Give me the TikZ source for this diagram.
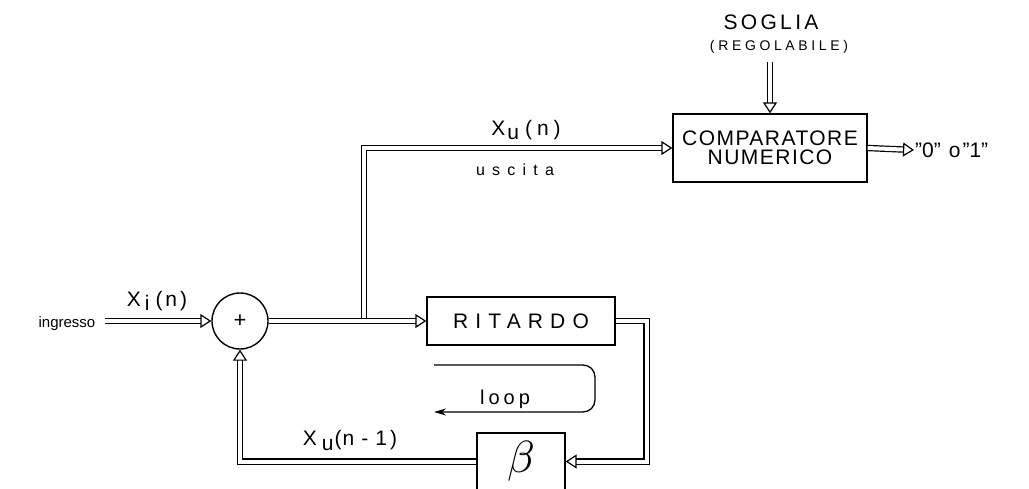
\documentclass[tikz,border=0pt]{standalone}
\usepackage{fontspec}
\usepackage{graphicx}
\setmainfont{Liberation Sans}
\usetikzlibrary{arrows.meta}
\begin{document}
\begin{tikzpicture}[x=1pt,y=-1pt,
  dbl/.style={draw=black, double=white, double distance=4pt, line width=1.2pt},
  darr/.style={dbl, -{Triangle[open, length=11pt, width=14pt, line width=1.2pt]}},
  blk/.style={draw, line width=1.3pt, rectangle, inner sep=0pt},
  lbl/.style={inner sep=1pt},
  sym/.style={lbl, font=\fontsize{21}{21}\selectfont},
]
\useasboundingbox (0,0) rectangle (1029,488);
% blocks
\node[circle, draw, line width=1.4pt, minimum size=56pt, inner sep=0pt, font=\fontsize{22}{22}\selectfont] (sum) at (240,321) {+};
\node[blk, minimum width=188pt, minimum height=48pt, font=\fontsize{21}{21}\selectfont\addfontfeature{LetterSpace=34}] (rit) at (521,321) {RITARDO};
\node[blk, minimum width=194pt, minimum height=68pt, align=center, font=\fontsize{21}{19}\selectfont\addfontfeature{LetterSpace=7}] (comp) at (770,148) {COMPARATORE\\NUMERICO};
\node[blk, minimum width=88pt, minimum height=57pt] (beta) at (521,461.5) {\scalebox{4.5}{$\beta$}};
% labels
\node[lbl, font=\fontsize{15}{15}\selectfont] (ing) at (67,324) {ingresso};
\node[sym] (xi) at (157,301) {X\kern4pt\raisebox{-4pt}{i}\kern6pt(\kern3pt n\kern3pt)};
\node[sym] (xu) at (526,130) {X\kern2pt\raisebox{-4pt}{u}\kern6pt(\kern5pt n\kern5pt)};
\node[lbl, font=\fontsize{16}{16}\selectfont\addfontfeature{LetterSpace=45}] (usc) at (515,170) {uscita};
\node[lbl, font=\fontsize{21}{21}\selectfont\addfontfeature{LetterSpace=16}] (sog) at (771,22) {SOGLIA};
\node[lbl, font=\fontsize{14}{14}\selectfont\addfontfeature{LetterSpace=26}] (reg) at (779,47) {(REGOLABILE)};
\node[lbl, anchor=west, font=\fontsize{21}{21}\selectfont] (out) at (914,150) {"0"\kern8pt o\kern2pt"1"};
\node[sym] (xun) at (350,440) {X\kern5pt\raisebox{-5pt}{u}\kern1pt(\kern1pt n\kern7pt-\kern7pt1\kern3pt)};
\node[lbl, font=\fontsize{20}{20}\selectfont\addfontfeature{LetterSpace=20}] (lp) at (505,399) {loop};
\coordinate (in) at (105,321);
\coordinate (j) at (364,318);
% connectors
\draw[darr] (in) -- (sum.west);
\draw[darr] (sum.east) -- (rit.west);
\draw[darr] (j) |- (comp.west);
\draw[darr] (comp.east) -- (out.west);
\draw[darr] ([yshift=-7pt]reg.south -| comp.north) -- (comp.north);
\draw[darr] (rit.east) -- ++(31,0) |- (beta.east);
\draw[darr] (beta.west) -| (sum.south);
% loop indicator
\draw[line width=1.3pt, rounded corners=12pt, -{Stealth[length=12pt,width=7pt]}]
  (434,365) -- (595,365) -- (595,412) -- (434,412);
\end{tikzpicture}
\end{document}
